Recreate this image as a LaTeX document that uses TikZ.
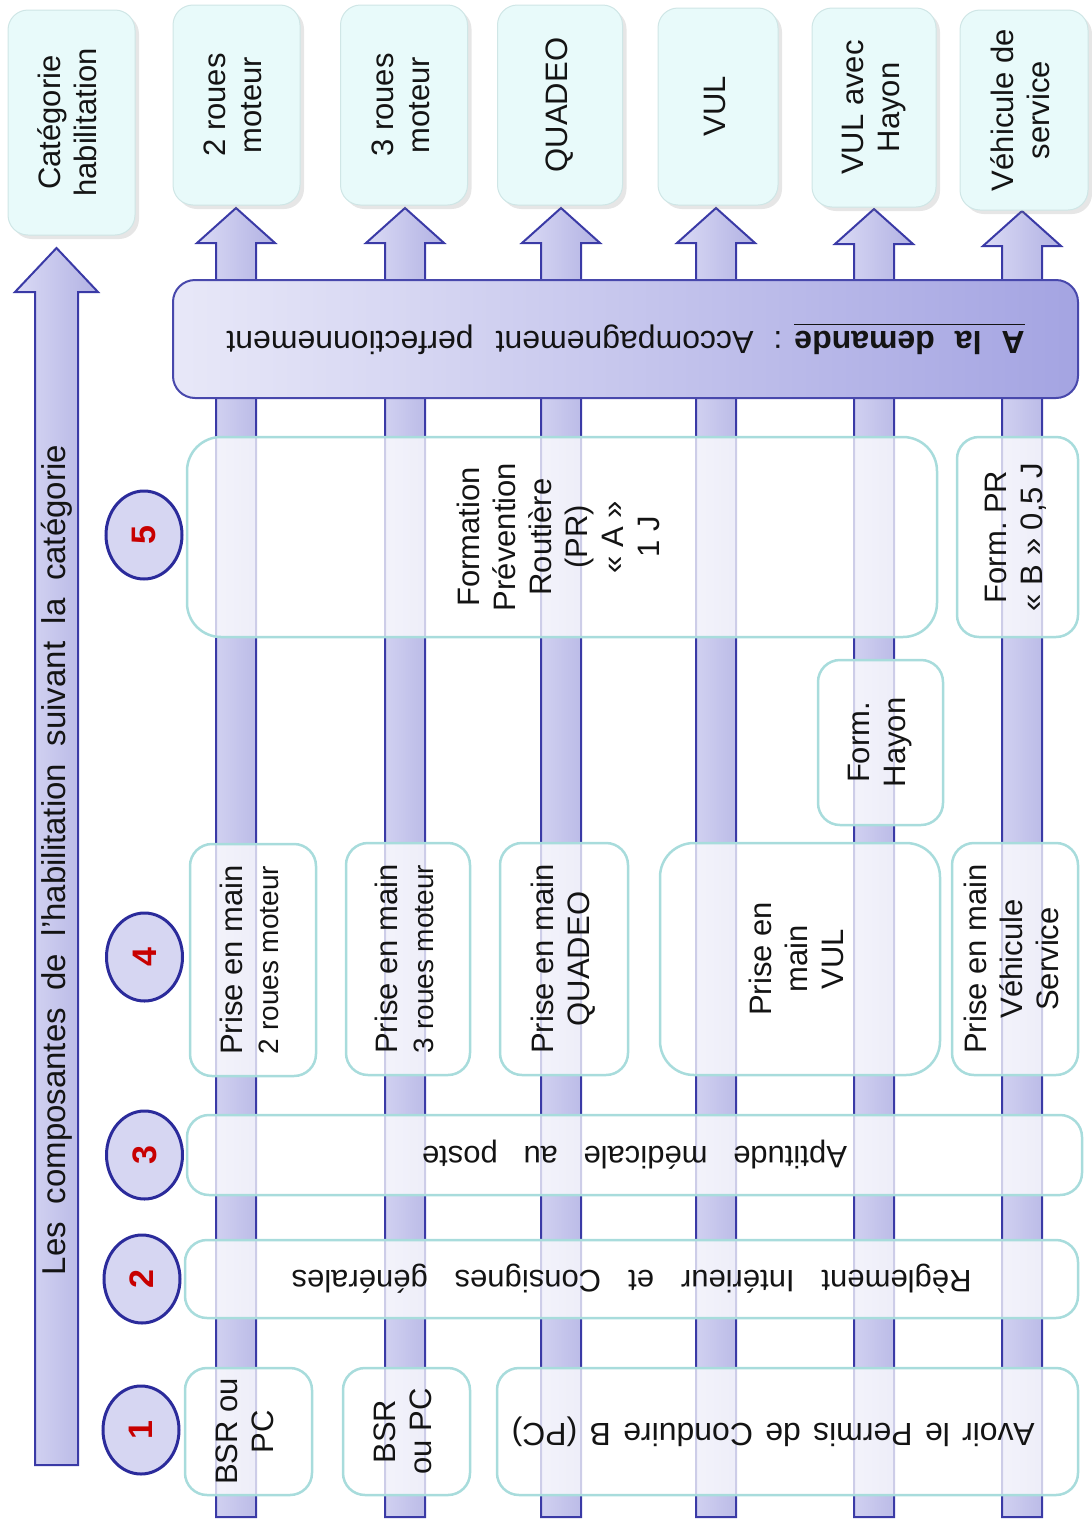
\documentclass[tikz,border=0pt]{standalone}
\usepackage{fontspec}
\setmainfont{Liberation Sans}
\usetikzlibrary{shapes.geometric,shadows}
\frenchspacing
\definecolor{barl}{HTML}{DADAF5}
\definecolor{barr}{HTML}{B2B2E3}
\definecolor{bared}{HTML}{3A3AA6}
\definecolor{boxed}{HTML}{A8DCDC}
\definecolor{headfill}{HTML}{E8FAFA}
\definecolor{headed}{HTML}{CFE6E6}
\definecolor{bandl}{HTML}{E8E8F8}
\definecolor{bandr}{HTML}{A4A4E2}
\definecolor{banded}{HTML}{4848AC}
\definecolor{circfill}{HTML}{D6D6F2}
\definecolor{circed}{HTML}{2B2B9B}
\definecolor{numred}{HTML}{C80000}
\definecolor{txt}{HTML}{141414}
\newcommand{\myvt}[1]{\rotatebox{90}{\begin{tabular}{@{}c@{}}#1\end{tabular}}}
\newcommand{\myut}[1]{\rotatebox{180}{#1}}
\newcommand{\colarrow}[3]{%
  \path[arrowbar] (#1-20,#3) -- (#1-20,#2-35) -- (#1-39,#2-35) -- (#1,#2)
    -- (#1+39,#2-35) -- (#1+20,#2-35) -- (#1+20,#3) -- cycle;}
\tikzset{
  base/.style={font=\fontsize{31}{36}\selectfont, text=txt, inner sep=0pt},
  head/.style={base, draw=headed, line width=1pt, fill=headfill, rounded corners=20pt,
    drop shadow={shadow xshift=4pt, shadow yshift=-4pt, opacity=0.2}},
  cbox/.style={base, draw=boxed, line width=2.5pt, fill=white, fill opacity=0.75,
    text opacity=1, rounded corners=22pt},
  arrowbar/.style={draw=bared, line width=2pt, left color=barl, right color=barr},
  band/.style={base, draw=banded, line width=2pt, left color=bandl, right color=bandr,
    rounded corners=22pt},
  circ/.style={ellipse, draw=circed, line width=3pt, fill=circfill,
    minimum width=76pt, minimum height=88pt, inner sep=0pt,
    font=\bfseries\fontsize{34}{36}\selectfont, text=numred},
}
\begin{document}
\begin{tikzpicture}[x=1pt,y=1pt]
\useasboundingbox (0,0) rectangle (1092,-1521);
% big arrow
\path[arrowbar] (35,-1465) -- (35,-292) -- (15,-292) -- (56.5,-248) -- (98,-292)
  -- (78,-292) -- (78,-1465) -- cycle;
\node[base, font=\fontsize{33}{36}\selectfont] (title) at (57,-860)
  {\rotatebox{90}{\makebox[830pt][s]{Les composantes de l'habilitation suivant la catégorie}}};
% column arrows
\colarrow{236}{-208}{-1517}
\colarrow{405}{-208}{-1517}
\colarrow{561}{-208}{-1517}
\colarrow{716}{-208}{-1517}
\colarrow{874}{-209}{-1517}
\colarrow{1022}{-211}{-1517}
% headers
\node[head, minimum width=127pt, minimum height=225pt] (h0) at (71.5,-122.5) {\myvt{Catégorie\\habilitation}};
\node[head, minimum width=127pt, minimum height=200pt] (h1) at (236.5,-105) {\myvt{2 roues\\moteur}};
\node[head, minimum width=127pt, minimum height=200pt] (h2) at (404,-105) {\myvt{3 roues\\moteur}};
\node[head, minimum width=125pt, minimum height=200pt] (h3) at (560,-105) {\myvt{QUADEO}};
\node[head, minimum width=120pt, minimum height=197pt] (h4) at (718,-106.5) {\myvt{VUL}};
\node[head, minimum width=124pt, minimum height=199pt] (h5) at (874,-107.5) {\myvt{VUL avec\\Hayon}};
\node[head, minimum width=128pt, minimum height=200pt] (h6) at (1024,-110) {\myvt{Véhicule de\\service}};
% band
\node[band, font=\fontsize{32}{36}\selectfont, minimum width=905pt, minimum height=118pt] (band) at (625.5,-339)
  {\myut{\underline{\textbf{A\hspace{20pt}la\hspace{20pt}demande}\vrule width 0pt depth 6pt}\hspace{12pt}:\hspace{20pt}Accompagnement\hspace{22pt}perfectionnement}};
% row 5
\node[cbox, rounded corners=34pt, minimum width=750pt, minimum height=200pt] (r5a) at (562,-537)
  {\myvt{Formation\\Prévention\\Routière\\(PR)\\« A »\\1 J}};
\node[cbox, minimum width=121pt, minimum height=200pt] (r5b) at (1017.5,-537)
  {\myvt{Form. PR\\« B » 0,5 J}};
\node[cbox, minimum width=125pt, minimum height=165pt] (fh) at (880.5,-742.5)
  {\myvt{Form.\\Hayon}};
% row 4
\node[cbox, minimum width=126pt, minimum height=232pt] (p1) at (253,-960)
  {\myvt{Prise en main\\{\fontsize{28}{32}\selectfont 2 roues moteur}}};
\node[cbox, minimum width=124pt, minimum height=232pt] (p2) at (408,-959)
  {\myvt{Prise en main\\{\fontsize{28}{32}\selectfont 3 roues moteur}}};
\node[cbox, minimum width=128pt, minimum height=232pt] (p3) at (564,-959)
  {\myvt{Prise en main\\QUADEO}};
\node[cbox, rounded corners=34pt, minimum width=280pt, minimum height=232pt] (p4) at (800,-959)
  {\myvt{Prise en\\main\\VUL}};
\node[cbox, minimum width=126pt, minimum height=232pt] (p5) at (1015,-959)
  {\myvt{Prise en main\\Véhicule\\Service}};
% row 3
\node[cbox, minimum width=895pt, minimum height=80pt] (r3) at (634.5,-1155)
  {\myut{\makebox[425pt][s]{Aptitude médicale au poste}}};
% row 2
\node[cbox, minimum width=893pt, minimum height=78pt] (r2) at (631.5,-1279)
  {\myut{\makebox[680pt][s]{Règlement Intérieur et Consignes générales}}};
% row 1
\node[cbox, minimum width=127pt, minimum height=127pt] (b1) at (248.5,-1431.5)
  {\myvt{BSR ou\\PC}};
\node[cbox, minimum width=127pt, minimum height=127pt] (b2) at (406.5,-1431.5)
  {\myvt{BSR\\ou PC}};
\node[cbox, font=\fontsize{32}{36}\selectfont, minimum width=581pt, minimum height=127pt] (b3) at (787.5,-1431.5)
  {\myut{\hspace{29pt}\makebox[523pt][s]{Avoir le Permis de Conduire B (PC)}}};
% circles
\node[circ] (c5) at (144,-535) {\rotatebox{90}{5}};
\node[circ] (c4) at (144.5,-957) {\rotatebox{90}{4}};
\node[circ] (c3) at (144.5,-1155) {\rotatebox{90}{3}};
\node[circ] (c2) at (142,-1279) {\rotatebox{90}{2}};
\node[circ] (c1) at (141,-1430) {\rotatebox{90}{1}};
\end{tikzpicture}
\end{document}
